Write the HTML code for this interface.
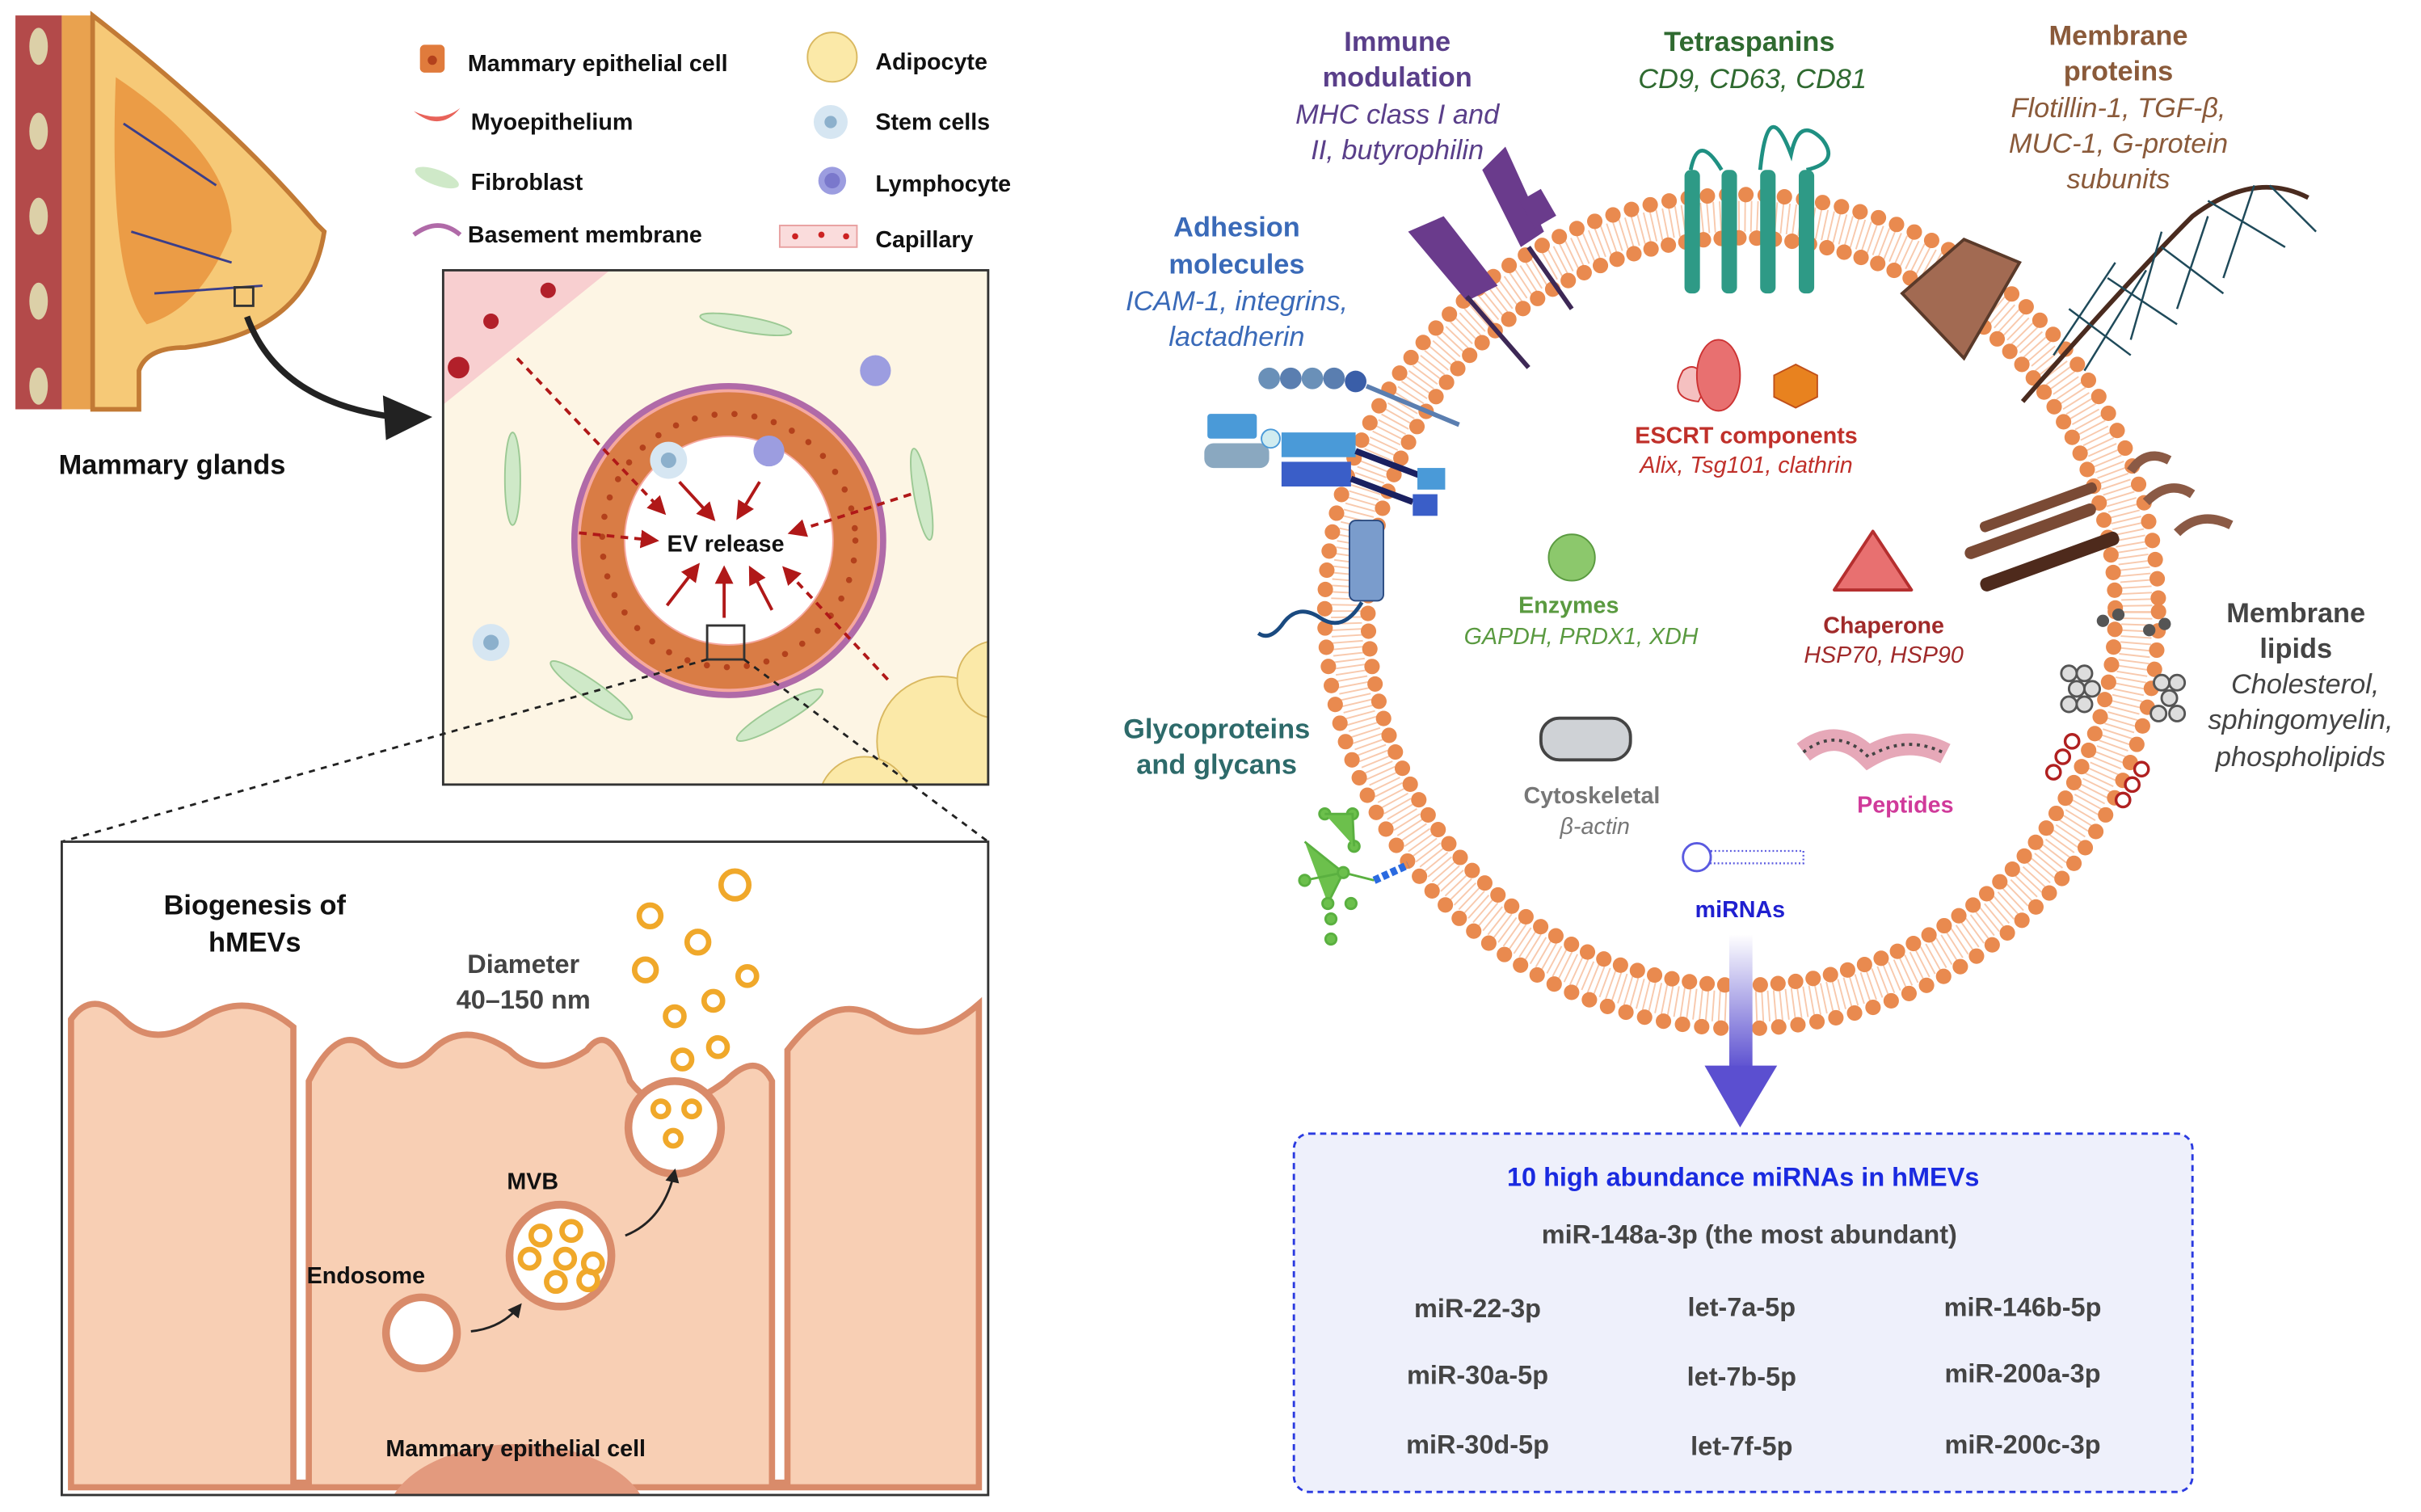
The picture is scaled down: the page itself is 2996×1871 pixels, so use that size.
<!DOCTYPE html>
<html><head><meta charset="utf-8"><style>
html,body{margin:0;padding:0;background:#fff;width:2996px;height:1871px;overflow:hidden}
svg{display:block}
text{font-family:"Liberation Sans",sans-serif}
.b{font-weight:bold}
.i{font-style:italic}
</style></head><body>
<svg width="2996" height="1871" viewBox="0 0 1568 979" preserveAspectRatio="none" xmlns="http://www.w3.org/2000/svg" overflow="hidden">
<defs>
<marker id="ar" markerWidth="6" markerHeight="6" refX="5" refY="3" orient="auto"><path d="M0,0 L6,3 L0,6z" fill="#b01818"/></marker>
<marker id="ak" markerWidth="6" markerHeight="6" refX="5" refY="3" orient="auto"><path d="M0,0 L6,3 L0,6z" fill="#222"/></marker>
<linearGradient id="pg" x1="0" y1="0" x2="0" y2="1"><stop offset="0" stop-color="#fff"/><stop offset="1" stop-color="#5b4fd0"/></linearGradient>
<clipPath id="c1"><rect x="287" y="175" width="353" height="333"/></clipPath>
<clipPath id="c2"><rect x="40" y="545" width="600" height="423"/></clipPath>
</defs>
<!-- breast -->
<path d="M10,10 L40,10 L40,265 L10,265z" fill="#b34a4a"/>
<path d="M40,10 L60,10 L60,265 L40,265z" fill="#e9a24f"/>
<g fill="#dcd0a8"><ellipse cx="25" cy="30" rx="6" ry="12"/><ellipse cx="25" cy="85" rx="6" ry="12"/><ellipse cx="25" cy="140" rx="6" ry="12"/><ellipse cx="25" cy="195" rx="6" ry="12"/><ellipse cx="25" cy="250" rx="6" ry="12"/></g>
<path d="M60,10 Q150,80 205,145 L210,150 Q200,215 120,225 Q95,225 90,240 L90,265 L60,265z" fill="#f6c977" stroke="#c27a35" stroke-width="3"/>
<path d="M75,50 Q150,100 150,150 Q130,200 95,210 Q70,180 75,50z" fill="#e9913a" opacity=".8"/>
<path d="M80,80 L140,120 M85,150 L150,170 M100,190 L170,185" stroke="#3a3e8a" stroke-width="1.5" fill="none"/>
<rect x="152" y="186" width="12" height="12" fill="none" stroke="#333" stroke-width="1.5"/>
<path d="M160,205 Q180,260 255,270" stroke="#222" stroke-width="4" fill="none"/>
<path d="M248,256 L280,270 L250,285z" fill="#222"/>
<text x="38" y="307" class="b" font-size="18" fill="#111">Mammary glands</text>
<!-- legend -->
<g font-size="15" class="b" fill="#111">
<rect x="272" y="29" width="16" height="18" rx="3" fill="#e07b3c"/><circle cx="280" cy="39" r="3" fill="#b3411c"/>
<text x="303" y="46">Mammary epithelial cell</text>
<path d="M268,72 Q285,80 298,70 Q285,86 268,72z" fill="#e8635a"/><text x="305" y="84">Myoepithelium</text>
<ellipse cx="283" cy="115" rx="15" ry="5" fill="#cfe9c8" transform="rotate(20 283 115)"/><text x="305" y="123">Fibroblast</text>
<path d="M268,152 Q284,140 298,152" stroke="#b06aa8" stroke-width="3" fill="none"/><text x="303" y="157">Basement membrane</text>
<circle cx="539" cy="37" r="16" fill="#fbe9a8" stroke="#d9b860"/><text x="567" y="45">Adipocyte</text>
<circle cx="538" cy="79" r="11" fill="#d6e6f2"/><circle cx="538" cy="79" r="4" fill="#8cb0cc"/><text x="567" y="84">Stem cells</text>
<circle cx="539" cy="117" r="9" fill="#9c9de0"/><circle cx="539" cy="117" r="5" fill="#7a78cc"/><text x="567" y="124">Lymphocyte</text>
<rect x="505" y="146" width="50" height="14" fill="#fadcdc" stroke="#e8a0a0"/><circle cx="515" cy="153" r="2" fill="#c22"/><circle cx="532" cy="152" r="2" fill="#c22"/><circle cx="548" cy="153" r="2" fill="#c22"/>
<text x="567" y="160">Capillary</text>
</g>
<!-- tissue box -->
<rect x="287" y="175" width="353" height="333" fill="#fdf5e4"/>
<g clip-path="url(#c1)">
<path d="M287,175 L395,175 L287,262z" fill="#f8cfd0"/>
<circle cx="297" cy="238" r="7" fill="#b2202a"/><circle cx="318" cy="208" r="5" fill="#b2202a"/><circle cx="355" cy="188" r="5" fill="#b2202a"/>
<g fill="#cfe9c8" stroke="#9cc994"><ellipse cx="483" cy="210" rx="30" ry="5" transform="rotate(10 483 210)"/><ellipse cx="332" cy="310" rx="5" ry="30"/><ellipse cx="597" cy="320" rx="5" ry="30" transform="rotate(-10 597 320)"/><ellipse cx="383" cy="447" rx="32" ry="6" transform="rotate(35 383 447)"/><ellipse cx="505" cy="463" rx="32" ry="6" transform="rotate(-30 505 463)"/></g>
<circle cx="567" cy="240" r="10" fill="#9c9de0"/><circle cx="318" cy="416" r="12" fill="#d6e6f2"/><circle cx="318" cy="416" r="5" fill="#8cb0cc"/>
<circle cx="610" cy="480" r="42" fill="#fbe9a8" stroke="#d9b860"/><circle cx="645" cy="440" r="25" fill="#fbe9a8" stroke="#d9b860"/><circle cx="560" cy="520" r="30" fill="#fbe9a8" stroke="#d9b860"/>
</g>
<rect x="287" y="175" width="353" height="333" fill="none" stroke="#333" stroke-width="1.5"/>
<circle cx="472" cy="350" r="100" fill="#f5a8a0" stroke="#b06aa8" stroke-width="4"/>
<circle cx="472" cy="350" r="82" fill="none" stroke="#d97c45" stroke-width="28"/>
<circle cx="472" cy="350" r="82" fill="none" stroke="#b3411c" stroke-width="4" stroke-dasharray="0 13" stroke-linecap="round"/>
<circle cx="472" cy="350" r="67" fill="#fff"/>
<circle cx="433" cy="298" r="12" fill="#d6e6f2"/><circle cx="433" cy="298" r="5" fill="#8cb0cc"/><circle cx="498" cy="292" r="10" fill="#9c9de0"/>
<g stroke="#b01818" stroke-width="2" fill="none" stroke-dasharray="5 4" marker-end="url(#ar)">
<path d="M335,232 L430,332"/><path d="M375,345 L425,350"/><path d="M590,320 L512,345"/><path d="M575,440 L508,368"/>
</g>
<g stroke="#b01818" stroke-width="2" marker-end="url(#ar)">
<path d="M440,312 L462,336"/><path d="M492,312 L478,335"/><path d="M432,392 L452,366"/><path d="M469,400 L469,368"/><path d="M500,395 L486,368"/>
</g>
<text x="470" y="357" text-anchor="middle" class="b" font-size="15" fill="#111">EV release</text>
<rect x="458" y="405" width="24" height="22" fill="none" stroke="#333" stroke-width="1.5"/>
<path d="M458,427 L40,545 M482,427 L640,545" stroke="#222" stroke-width="1.5" stroke-dasharray="4 4"/>
<!-- bottom box -->
<rect x="40" y="545" width="600" height="423" fill="#fff"/>
<g clip-path="url(#c2)">
<path d="M46,963 L46,660 Q60,640 80,660 Q100,680 130,660 Q160,640 190,665 L190,960 L200,960 L200,700 Q220,660 240,680 Q260,700 280,680 Q300,660 330,680 Q350,700 380,680 Q395,660 408,700 Q430,730 470,700 Q490,680 500,700 L500,960 L510,960 L510,680 Q540,640 570,660 Q600,680 634,650 L634,963z" fill="#f8cfb4" stroke="#d98b6a" stroke-width="4"/>
<ellipse cx="335" cy="985" rx="85" ry="50" fill="#e39a7e"/>
</g>
<rect x="40" y="545" width="600" height="423" fill="none" stroke="#333" stroke-width="1.5"/>
<circle cx="437" cy="730" r="30" fill="#fff" stroke="#d98b6a" stroke-width="5"/>
<circle cx="363" cy="813" r="33" fill="#fff" stroke="#d98b6a" stroke-width="5"/>
<circle cx="273" cy="863" r="23" fill="#fff" stroke="#d98b6a" stroke-width="5"/>
<g fill="none" stroke="#f0a82a" stroke-width="3.5">
<circle cx="350" cy="800" r="6"/><circle cx="370" cy="797" r="6"/><circle cx="343" cy="815" r="6"/><circle cx="366" cy="815" r="6"/><circle cx="384" cy="818" r="6"/><circle cx="360" cy="830" r="6"/><circle cx="381" cy="829" r="6"/>
<circle cx="428" cy="718" r="5"/><circle cx="448" cy="718" r="5"/><circle cx="436" cy="737" r="5"/>
<circle cx="476" cy="573" r="9"/><circle cx="421" cy="593" r="7"/><circle cx="452" cy="610" r="7"/><circle cx="484" cy="632" r="6"/><circle cx="418" cy="628" r="7"/><circle cx="462" cy="648" r="6"/><circle cx="437" cy="658" r="6"/><circle cx="465" cy="678" r="6"/><circle cx="442" cy="686" r="6"/>
</g>
<path d="M305,862 Q325,860 337,845" stroke="#222" stroke-width="1.5" fill="none" marker-end="url(#ak)"/>
<path d="M405,800 Q430,790 437,758" stroke="#222" stroke-width="1.5" fill="none" marker-end="url(#ak)"/>
<g class="b" fill="#111">
<text x="165" y="592" text-anchor="middle" font-size="18">Biogenesis of</text>
<text x="165" y="616" text-anchor="middle" font-size="18">hMEVs</text>
<text x="339" y="630" text-anchor="middle" font-size="17" fill="#444">Diameter</text>
<text x="339" y="653" text-anchor="middle" font-size="17" fill="#444">40–150 nm</text>
<text x="345" y="770" text-anchor="middle" font-size="15">MVB</text>
<text x="237" y="831" text-anchor="middle" font-size="15">Endosome</text>
<text x="334" y="943" text-anchor="middle" font-size="15">Mammary epithelial cell</text>
</g>
<!-- EV membrane -->
<circle cx="1128" cy="396" r="256" fill="none" stroke="#f8c9ad" stroke-width="20" stroke-dasharray="1 3"/>
<circle cx="1128" cy="396" r="270" fill="none" stroke="#e98a4f" stroke-width="10" stroke-dasharray="0 12.5" stroke-linecap="round"/>
<circle cx="1128" cy="396" r="242" fill="none" stroke="#e98a4f" stroke-width="10" stroke-dasharray="0 11.5" stroke-linecap="round"/>
<!-- proteins -->
<g stroke="#1f9082" stroke-width="2.5" fill="none"><path d="M1095,110 Q1100,85 1115,110 M1140,110 Q1145,60 1160,100 Q1165,75 1180,90 Q1192,105 1170,110"/></g>
<g fill="#2e9a86"><rect x="1091" y="110" width="10" height="80" rx="4"/><rect x="1115" y="110" width="10" height="80" rx="4"/><rect x="1140" y="110" width="10" height="80" rx="4"/><rect x="1165" y="110" width="10" height="80" rx="4"/></g>
<g fill="#6a3b8c"><path d="M912,150 L935,140 L970,185 L950,195z"/><path d="M960,110 L975,95 L1000,150 L985,160z"/><rect x="988" y="125" width="16" height="20" transform="rotate(-30 996 135)"/></g>
<path d="M950,192 L990,238 M990,160 L1018,200" stroke="#3d2856" stroke-width="3"/>
<path d="M1232,190 L1272,155 L1308,170 L1272,232z" fill="#a26a52" stroke="#5a3a2a" stroke-width="2"/>
<path d="M1310,260 Q1380,180 1420,140 Q1460,110 1495,128" stroke="#4a2b1f" stroke-width="3" fill="none"/>
<g stroke="#1f4a5a" stroke-width="1.3" fill="none"><path d="M1330,230 L1370,170 M1350,240 L1390,175 M1380,220 L1400,150 M1410,200 L1430,140 M1440,180 L1460,120 M1340,200 L1380,230 M1365,180 L1410,210 M1400,160 L1440,190 M1430,130 L1480,160 M1470,120 L1500,150"/></g>
<g fill="#7a4a35"><rect x="1270" y="340" width="90" height="8" rx="4" transform="rotate(-20 1315 344)"/><rect x="1280" y="360" width="95" height="9" rx="4" transform="rotate(-20 1325 364)" fill="#4e2a1c"/><rect x="1280" y="325" width="80" height="7" rx="3" transform="rotate(-20 1320 328)"/></g>
<path d="M1380,305 Q1390,290 1405,298 M1390,325 Q1405,310 1420,320 M1410,345 Q1425,330 1445,340" stroke="#8b5a45" stroke-width="6" fill="none"/>
<g fill="#ddd" stroke="#555" stroke-width="1.5"><circle cx="1340" cy="436" r="5"/><circle cx="1350" cy="436" r="5"/><circle cx="1345" cy="446" r="5"/><circle cx="1355" cy="446" r="5"/><circle cx="1340" cy="456" r="5"/><circle cx="1350" cy="456" r="5"/><circle cx="1400" cy="442" r="5"/><circle cx="1410" cy="442" r="5"/><circle cx="1405" cy="452" r="5"/><circle cx="1398" cy="462" r="5"/><circle cx="1410" cy="462" r="5"/></g>
<g fill="#fff" stroke="#b02020" stroke-width="1.8"><circle cx="1330" cy="500" r="4.5"/><circle cx="1336" cy="490" r="4.5"/><circle cx="1342" cy="480" r="4.5"/><circle cx="1375" cy="518" r="4.5"/><circle cx="1381" cy="508" r="4.5"/><circle cx="1387" cy="498" r="4.5"/></g>
<g fill="#555"><circle cx="1362" cy="402" r="4"/><circle cx="1372" cy="398" r="4"/><circle cx="1392" cy="408" r="4"/><circle cx="1402" cy="404" r="4"/></g>
<g><circle cx="822" cy="245" r="7" fill="#6a90b8"/><circle cx="836" cy="245" r="7" fill="#5a7eb0"/><circle cx="850" cy="245" r="7" fill="#6a90b8"/><circle cx="864" cy="245" r="7" fill="#5a7eb0"/><circle cx="878" cy="247" r="7" fill="#3a5ea8"/></g>
<path d="M885,250 L945,275" stroke="#5a7eb0" stroke-width="3"/>
<rect x="782" y="268" width="32" height="16" rx="2" fill="#4a9ad8"/><rect x="780" y="287" width="42" height="16" rx="6" fill="#8aa8c0"/>
<circle cx="823" cy="284" r="6" fill="#d0ecf0" stroke="#4a9ad8"/>
<rect x="830" y="280" width="48" height="16" fill="#4a9ad8"/><rect x="830" y="299" width="45" height="16" fill="#3a5ec8"/>
<path d="M878,292 L920,308 M875,310 L915,325" stroke="#1a2060" stroke-width="4"/>
<rect x="918" y="303" width="18" height="14" fill="#4a9ad8"/><rect x="915" y="320" width="16" height="14" fill="#3a5ec8"/>
<rect x="874" y="337" width="22" height="52" rx="4" fill="#7a9ccc" stroke="#2a4a80"/>
<path d="M882,390 Q870,410 855,400 Q840,390 830,405 Q822,415 815,410" stroke="#1a4a80" stroke-width="2.5" fill="none"/>
<g stroke="#5ab040" stroke-width="1.5" fill="#6cc04c"><path d="M845,545 L870,565 L860,585 M845,570 L870,565 M870,565 L890,570"/><circle cx="845" cy="570" r="3.5"/><circle cx="860" cy="585" r="3.5"/><circle cx="870" cy="565" r="3.5"/><circle cx="862" cy="595" r="3.5"/><circle cx="862" cy="608" r="3.5"/><circle cx="875" cy="585" r="3.5"/><circle cx="858" cy="527" r="3.5"/><circle cx="876" cy="527" r="3.5"/><circle cx="877" cy="548" r="3.5"/><path d="M858,527 L876,527 L877,548"/></g>
<path d="M890,570 L912,560" stroke="#2a6ae0" stroke-width="5" stroke-dasharray="4 2"/>
<!-- inner -->
<path d="M1090,240 Q1100,232 1105,250 L1100,260 Q1080,258 1090,240z" fill="#f5c0c0" stroke="#c33"/>
<ellipse cx="1113" cy="243" rx="14" ry="23" fill="#e87070" stroke="#c33"/>
<path d="M1163,236 L1177,243 L1177,257 L1163,264 L1149,257 L1149,243z" fill="#e8821f" stroke="#c0501a"/>
<circle cx="1018" cy="361" r="15" fill="#8cc86c" stroke="#5a9a40"/>
<path d="M1213,344 L1238,382 L1188,382z" fill="#e87070" stroke="#b52f2f" stroke-width="2" stroke-linejoin="round"/>
<rect x="998" y="465" width="58" height="27" rx="12" fill="#cfd2d6" stroke="#444" stroke-width="2"/>
<path d="M1168,487 Q1190,470 1210,490 Q1235,475 1260,488" stroke="#e6a8b8" stroke-width="14" fill="none"/>
<path d="M1168,487 Q1190,470 1210,490 Q1235,475 1260,488" stroke="#444" stroke-width="2" stroke-dasharray="2 3" fill="none"/>
<circle cx="1099" cy="555" r="9" fill="#fff" stroke="#5a5ae0" stroke-width="1.5"/>
<rect x="1108" y="551" width="60" height="8" fill="none" stroke="#5a5ae0" stroke-width="1.2" stroke-dasharray="1 1.5"/>
<!-- labels -->
<g font-size="18">
<text x="905" y="33" text-anchor="middle" class="b" fill="#5a3f8a">Immune</text>
<text x="905" y="56" text-anchor="middle" class="b" fill="#5a3f8a">modulation</text>
<text x="905" y="80" text-anchor="middle" class="i" fill="#5a3f8a">MHC class I  and</text>
<text x="905" y="103" text-anchor="middle" class="i" fill="#5a3f8a">II, butyrophilin</text>
<text x="1133" y="33" text-anchor="middle" class="b" fill="#2f6a30">Tetraspanins</text>
<text x="1135" y="57" text-anchor="middle" class="i" fill="#2f6a30">CD9, CD63, CD81</text>
<g fill="#8a5a3a" text-anchor="middle"><text x="1372" y="29" class="b">Membrane</text><text x="1372" y="52" class="b">proteins</text><text x="1372" y="76" class="i">Flotillin-1, TGF-β,</text><text x="1372" y="99" class="i">MUC-1, G-protein</text><text x="1372" y="122" class="i">subunits</text></g>
<g fill="#3a6ab8" text-anchor="middle"><text x="801" y="153" class="b">Adhesion</text><text x="801" y="177" class="b">molecules</text><text x="801" y="201" class="i">ICAM-1, integrins,</text><text x="801" y="224" class="i">lactadherin</text></g>
<g fill="#2d6a6a" class="b" text-anchor="middle"><text x="788" y="478">Glycoproteins</text><text x="788" y="501">and glycans</text></g>
<g fill="#444" text-anchor="middle"><text x="1487" y="403" class="b">Membrane</text><text x="1487" y="426" class="b">lipids</text><text x="1493" y="449" class="i">Cholesterol,</text><text x="1490" y="472" class="i">sphingomyelin,</text><text x="1490" y="496" class="i">phospholipids</text></g>
</g>
<g font-size="15" text-anchor="middle">
<text x="1131" y="287" class="b" fill="#c0302a">ESCRT components</text>
<text x="1131" y="306" class="i" fill="#c0302a">Alix, Tsg101, clathrin</text>
<text x="1016" y="397" class="b" fill="#5a9a40">Enzymes</text>
<text x="1024" y="417" class="i" fill="#5a9a40">GAPDH, PRDX1, XDH</text>
<text x="1220" y="410" class="b" fill="#a02a2a">Chaperone</text>
<text x="1220" y="429" class="i" fill="#a02a2a">HSP70, HSP90</text>
<text x="1031" y="520" class="b" fill="#777">Cytoskeletal</text>
<text x="1033" y="540" class="i" fill="#777">β-actin</text>
<text x="1234" y="526" class="b" fill="#d03a9a">Peptides</text>
<text x="1127" y="594" class="b" fill="#2020d0">miRNAs</text>
</g>
<!-- arrow -->
<rect x="1120" y="605" width="15" height="88" fill="url(#pg)"/>
<path d="M1104,690 L1151,690 L1127,730z" fill="#5b4fd0"/>
<!-- box -->
<rect x="838" y="734" width="582" height="232" rx="10" fill="#eef0fb" stroke="#2a3ae0" stroke-width="1.5" stroke-dasharray="4 3"/>
<g class="b" text-anchor="middle" font-size="17">
<text x="1129" y="768" fill="#1a2ae0">10 high abundance miRNAs in hMEVs</text>
<g fill="#444"><text x="1133" y="805">miR-148a-3p (the most abundant)</text>
<text x="957" y="853">miR-22-3p</text><text x="1128" y="852">let-7a-5p</text><text x="1310" y="852">miR-146b-5p</text>
<text x="957" y="896">miR-30a-5p</text><text x="1128" y="897">let-7b-5p</text><text x="1310" y="895">miR-200a-3p</text>
<text x="957" y="941">miR-30d-5p</text><text x="1128" y="942">let-7f-5p</text><text x="1310" y="941">miR-200c-3p</text></g>
</g>
</svg>
</body></html>
